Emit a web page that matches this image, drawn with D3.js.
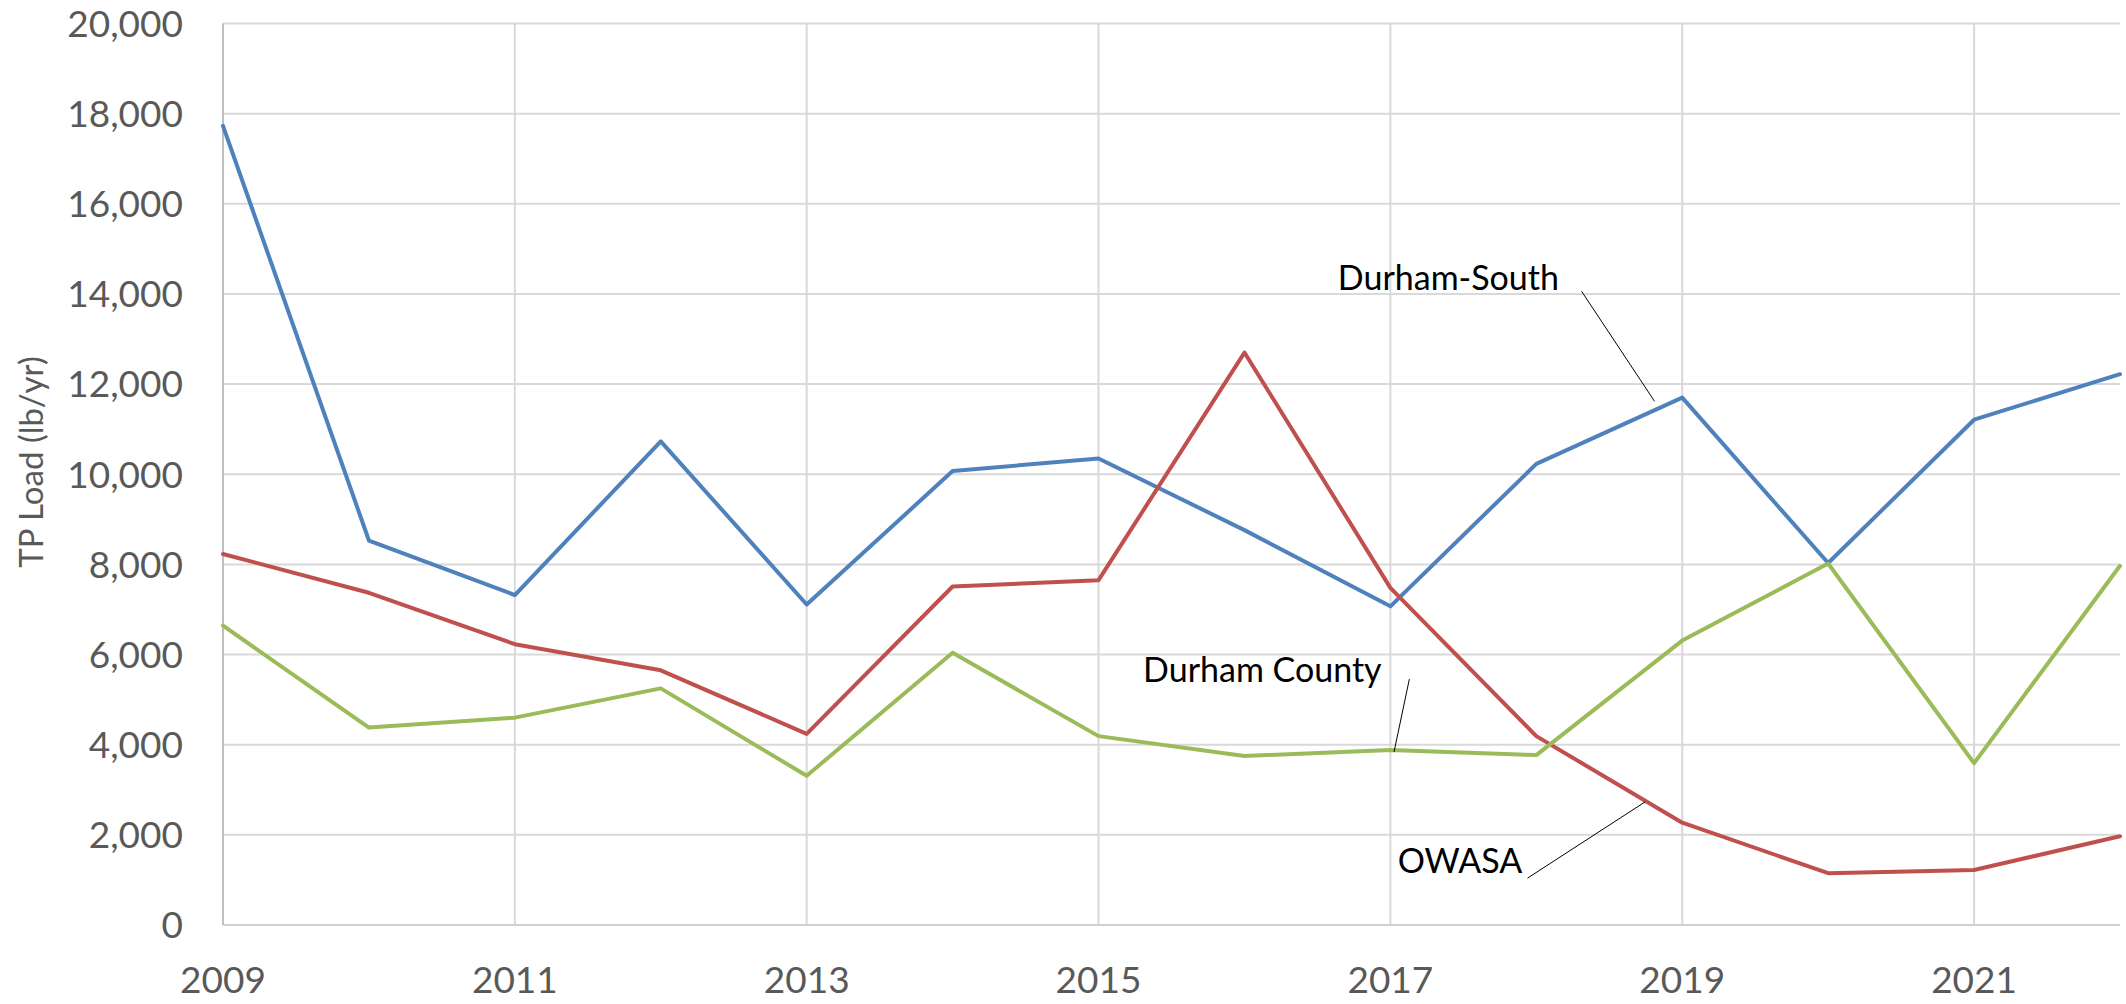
<!DOCTYPE html>
<html>
<head>
<meta charset="utf-8">
<script src="https://cdn.jsdelivr.net/npm/d3@7"></script>
<style>
  html, body { margin: 0; padding: 0; background: #fff; }
  svg { display: block; }
  text { font-family: Lato, "Open Sans", sans-serif; }
</style>
</head>
<body>
<svg id="chart" width="2126" height="1004"></svg>
<script>
// Annual total phosphorus loads by discharger, 2009–2022
const years = [2009, 2010, 2011, 2012, 2013, 2014, 2015, 2016, 2017, 2018, 2019, 2020, 2021, 2022];
const durhamSouth = [17730, 8530, 7320, 10730, 7110, 10070, 10350, 8760, 7070, 10230, 11700, 8030, 11210, 12220];
const owasa       = [8230, 7370, 6230, 5650, 4240, 7510, 7650, 12700, 7480, 4190, 2270, 1150, 1220, 1970];
const durhamCounty = [6640, 4380, 4600, 5250, 3310, 6040, 4190, 3750, 3880, 3770, 6310, 8020, 3590, 7970];

const seriesNames = ["Durham-South", "OWASA", "Durham County"];
const seriesValues = [durhamSouth, owasa, durhamCounty];
const seriesColors = ["#4F81BD", "#C0504D", "#9BBB59"];

const yTicks = [0, 2000, 4000, 6000, 8000, 10000, 12000, 14000, 16000, 18000, 20000];
const xTicks = [2009, 2011, 2013, 2015, 2017, 2019, 2021];

// Callout labels: text position and leader line, all in data units (year, lb/yr)
const calloutText = ["Durham-South", "Durham County", "OWASA"];
const calloutTextAt = [[2016.64, 14080], [2016.94, 5390], [2017.05, 1150]];
const calloutAnchor = ["start", "end", "start"];
const calloutLineFrom = [[2018.31, 14060], [2017.13, 5455], [2017.94, 1040]];
const calloutLineTo = [[2018.81, 11620], [2017.025, 3840], [2018.745, 2730]];

const svg = d3.select("#chart");
const plotLeft = 223, plotRight = 2120, plotTop = 23.5, plotBottom = 925;

const x = d3.scaleLinear().domain([2009, 2022]).range([plotLeft, plotRight]);
const y = d3.scaleLinear().domain([0, 20000]).range([plotBottom, plotTop]);

// horizontal gridlines
svg.append("g")
  .selectAll("line")
  .data(yTicks.filter(d => d > 0))
  .join("line")
  .attr("x1", plotLeft).attr("x2", plotRight)
  .attr("y1", d => y(d)).attr("y2", d => y(d))
  .attr("stroke", "#d9d9d9").attr("stroke-width", 2);

// vertical gridlines at labelled years
svg.append("g")
  .selectAll("line")
  .data(xTicks.filter(d => d > 2009))
  .join("line")
  .attr("x1", d => x(d)).attr("x2", d => x(d))
  .attr("y1", plotTop).attr("y2", plotBottom)
  .attr("stroke", "#d9d9d9").attr("stroke-width", 2);

// axis lines
svg.append("line")
  .attr("x1", plotLeft).attr("x2", plotLeft).attr("y1", plotTop).attr("y2", plotBottom)
  .attr("stroke", "#bfbfbf").attr("stroke-width", 2);
svg.append("line")
  .attr("x1", plotLeft).attr("x2", plotRight).attr("y1", plotBottom).attr("y2", plotBottom)
  .attr("stroke", "#cfcfcf").attr("stroke-width", 2);

// y tick labels
const fmt = d3.format(",");
svg.append("g")
  .selectAll("text")
  .data(yTicks)
  .join("text")
  .attr("x", 183)
  .attr("y", d => y(d))
  .attr("dy", "0.36em")
  .attr("text-anchor", "end")
  .attr("font-size", 37)
  .attr("fill", "#595959")
  .text(d => fmt(d));

// x tick labels
svg.append("g")
  .selectAll("text")
  .data(xTicks)
  .join("text")
  .attr("x", d => x(d))
  .attr("y", 993)
  .attr("text-anchor", "middle")
  .attr("font-size", 37)
  .attr("fill", "#595959")
  .text(d => d);

// y axis title
svg.append("text")
  .attr("transform", `translate(43, 462) rotate(-90)`)
  .attr("text-anchor", "middle")
  .attr("font-size", 33)
  .attr("fill", "#595959")
  .text("TP Load (lb/yr)");

// series lines
const line = d3.line()
  .x((d, i) => x(years[i]))
  .y(d => y(d));

svg.append("g")
  .selectAll("path")
  .data(seriesValues)
  .join("path")
  .attr("d", d => line(d))
  .attr("fill", "none")
  .attr("stroke", (d, i) => seriesColors[i])
  .attr("stroke-width", 4)
  .attr("stroke-linejoin", "round")
  .attr("stroke-linecap", "round");

// callout leaders and labels
svg.append("g")
  .selectAll("line")
  .data(calloutText)
  .join("line")
  .attr("x1", (d, i) => x(calloutLineFrom[i][0]))
  .attr("y1", (d, i) => y(calloutLineFrom[i][1]))
  .attr("x2", (d, i) => x(calloutLineTo[i][0]))
  .attr("y2", (d, i) => y(calloutLineTo[i][1]))
  .attr("stroke", "#000").attr("stroke-width", 1);

svg.append("g")
  .selectAll("text")
  .data(calloutText)
  .join("text")
  .attr("x", (d, i) => x(calloutTextAt[i][0]))
  .attr("y", (d, i) => y(calloutTextAt[i][1]))
  .attr("text-anchor", (d, i) => calloutAnchor[i])
  .attr("font-size", 34)
  .attr("fill", "#000")
  .text(d => d);
</script>
</body>
</html>
